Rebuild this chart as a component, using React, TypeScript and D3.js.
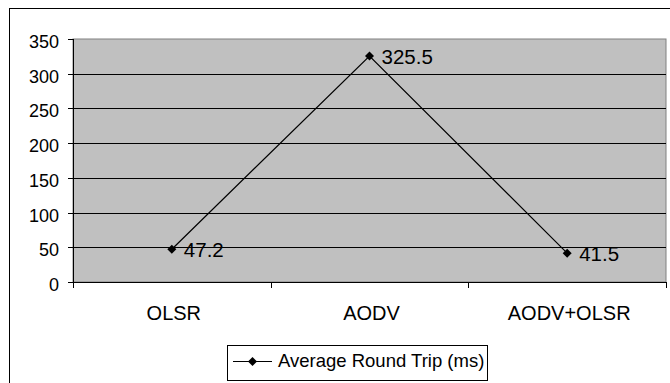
import React from "react";
import * as d3 from "d3";

const categories: string[] = ["OLSR", "AODV", "AODV+OLSR"];
const roundTrip: number[] = [47.2, 325.5, 41.5];
const yTicks: number[] = [0, 50, 100, 150, 200, 250, 300, 350];
const seriesName = "Average Round Trip (ms)";

const W = 670;
const H = 383;
const plot = { left: 73, right: 666, top: 39, bottom: 282 };
const font = "'Liberation Sans', Arial, sans-serif";

function Diamond({ cx, cy, r }: { cx: number; cy: number; r: number }) {
  return (
    <path
      d={`M${cx},${cy - r}L${cx + r},${cy}L${cx},${cy + r}L${cx - r},${cy}Z`}
      fill="#000"
    />
  );
}

export default function App() {
  const x = d3
    .scaleBand<string>()
    .domain(categories)
    .range([plot.left, plot.right])
    .padding(0);
  const y = d3.scaleLinear().domain([0, 350]).range([plot.bottom, plot.top]);
  const cx = (c: string) => (x(c) ?? 0) + x.bandwidth() / 2;

  const pts: [number, number][] = categories.map((c, i) => [cx(c), y(roundTrip[i])]);
  const line = d3.line<[number, number]>()(pts) ?? "";

  const boundaries = categories.map((c) => x(c) ?? 0).concat([plot.right]);

  return (
    <svg
      width={W}
      height={H}
      style={{ position: "absolute", left: 0, top: 0, background: "#fff" }}
      fontFamily={font}
    >
      {/* chart frame */}
      <rect x={9.5} y={8.5} width={700} height={420} fill="#fff" stroke="#000" />

      {/* plot area */}
      <rect
        x={plot.left}
        y={plot.top}
        width={plot.right - plot.left}
        height={plot.bottom - plot.top}
        fill="#c0c0c0"
        stroke="#808080"
      />

      {/* horizontal gridlines */}
      {yTicks
        .filter((t) => t > 0 && t < 350)
        .map((t) => (
          <line
            key={t}
            x1={plot.left}
            x2={plot.right}
            y1={Math.round(y(t)) + 0.5}
            y2={Math.round(y(t)) + 0.5}
            stroke="#000"
          />
        ))}

      {/* y axis */}
      <line x1={plot.left + 0.5} x2={plot.left + 0.5} y1={plot.top} y2={plot.bottom} stroke="#000" />
      {yTicks.map((t) => (
        <g key={t}>
          <line
            x1={plot.left - 5}
            x2={plot.left}
            y1={Math.round(y(t)) + 0.5}
            y2={Math.round(y(t)) + 0.5}
            stroke="#000"
          />
          <text x={59} y={y(t) + 9} fontSize={18} textAnchor="end" fill="#000">
            {t}
          </text>
        </g>
      ))}

      {/* x axis */}
      <line
        x1={plot.left}
        x2={plot.right}
        y1={plot.bottom + 0.5}
        y2={plot.bottom + 0.5}
        stroke="#000"
      />
      {boundaries.map((b, i) => (
        <line
          key={i}
          x1={Math.round(b) + 0.5}
          x2={Math.round(b) + 0.5}
          y1={plot.bottom}
          y2={plot.bottom + 6}
          stroke="#000"
        />
      ))}
      {categories.map((c) => (
        <text key={c} x={cx(c) + 2} y={plot.bottom + 38} fontSize={20} textAnchor="middle" fill="#000">
          {c}
        </text>
      ))}

      {/* series */}
      <path d={line} fill="none" stroke="#000" strokeWidth={1.2} />
      {pts.map(([px, py], i) => (
        <g key={i}>
          <Diamond cx={px} cy={py} r={4.5} />
          <text x={px + 12} y={py + 8} fontSize={20.5} fill="#000">
            {roundTrip[i]}
          </text>
        </g>
      ))}

      {/* legend */}
      <rect x={227.5} y={345.5} width={260} height={35} fill="#fff" stroke="#000" />
      <text x={278} y={367} fontSize={18.5} fill="#000">
        {seriesName}
      </text>
      <line x1={233} x2={272} y1={361.5} y2={361.5} stroke="#000" strokeWidth={1.2} />
      <Diamond cx={252.5} cy={361.5} r={4.5} />
    </svg>
  );
}
